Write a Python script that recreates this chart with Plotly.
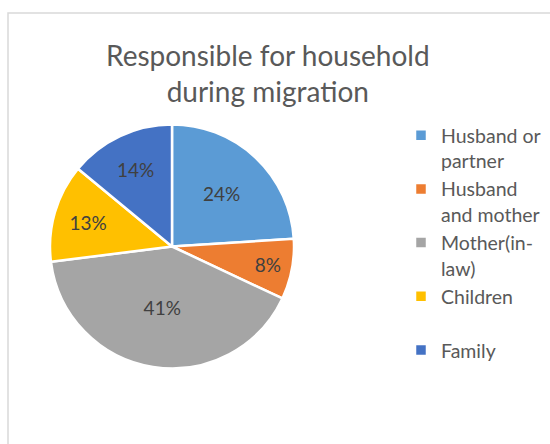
import plotly.graph_objects as go

# Who took responsibility for the household during migration
labels = ["Husband or<br>partner", "Husband<br>and mother", "Mother(in-<br>law)", "Children<br> ", "Family"]
shares = [24, 8, 41, 13, 14]
colors = ["#5B9BD5", "#ED7D31", "#A5A5A5", "#FFC000", "#4472C4"]

W, H = 550, 444
FONT = "Lato, 'Open Sans', sans-serif"
TEXT = "#595959"

fig = go.Figure(
    go.Pie(
        labels=labels,
        values=shares,
        sort=False,
        direction="clockwise",
        marker=dict(colors=colors, line=dict(color="white", width=2.5)),
        texttemplate="%{value}%",
        textposition="inside",
        insidetextorientation="horizontal",
        insidetextfont=dict(family=FONT, size=19, color="#404040"),
        domain=dict(x=[50 / W, 294 / W], y=[(H - 369) / H, (H - 124) / H]),
        hoverinfo="label+percent",
    )
)

fig.update_layout(
    width=W,
    height=H,
    margin=dict(l=0, r=0, t=0, b=0),
    paper_bgcolor="white",
    plot_bgcolor="white",
    font=dict(family=FONT, color=TEXT),
    showlegend=True,
    legend=dict(
        x=401 / W,
        y=(H - 116) / H,
        xanchor="left",
        yanchor="top",
        font=dict(family=FONT, size=19.5, color=TEXT),
        valign="top",
        itemwidth=30,
        bgcolor="rgba(0,0,0,0)",
    ),
    annotations=[
        dict(
            text="Responsible for household<br>during migration",
            x=268 / W,
            y=(H - 36) / H,
            xref="paper",
            yref="paper",
            xanchor="center",
            yanchor="top",
            showarrow=False,
            font=dict(family=FONT, size=28, color=TEXT),
        )
    ],
    shapes=[
        dict(
            type="rect",
            xref="paper",
            yref="paper",
            x0=8 / W,
            x1=1.05,
            y0=-0.05,
            y1=(H - 13) / H,
            line=dict(color="#D9D9D9", width=1.5),
            layer="below",
        )
    ],
)

fig.write_html("out.html")
